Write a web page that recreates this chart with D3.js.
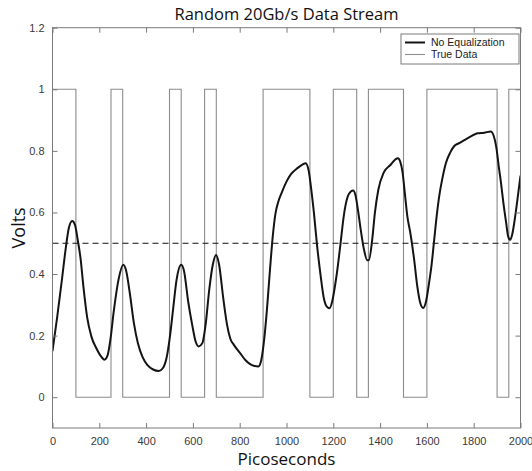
<!DOCTYPE html>
<html>
<head>
<meta charset="utf-8">
<script src="https://cdn.jsdelivr.net/npm/d3@7"></script>
<style>
  html, body { margin: 0; padding: 0; background: #fff; }
  svg { display: block; }
</style>
</head>
<body>
<svg id="chart" width="532" height="471"></svg>
<script>
// Transmitted bit pattern: level held from each edge time until the next
const bitEdges = [0, 100, 250, 300, 500, 550, 650, 700, 900, 1100, 1200, 1300, 1350, 1500, 1600, 1900, 1950, 2000];
const bitLevels = [1, 0, 1, 0, 1, 0, 1, 0, 1, 0, 1, 0, 1, 0, 1, 0, 1];

// Received waveform without equalization (ps, volts)
const rxTime = [0, 20, 40, 56, 70, 84, 96, 108, 120, 132, 148, 165, 190, 210, 222, 235, 248, 262, 283, 302,
  315, 330, 348, 365, 385, 405, 430, 454, 472, 488, 504, 516, 530, 550, 562, 580, 597, 612, 625, 640,
  655, 670, 685, 699, 712, 730, 746, 760, 775, 800, 825, 850, 880, 892, 905, 917, 930, 941, 953, 965,
  980, 1000, 1020, 1047, 1068, 1082, 1095, 1105, 1117, 1131, 1145, 1160, 1175, 1184, 1195, 1209, 1220, 1231, 1245, 1259,
  1275, 1285, 1295, 1305, 1318, 1331, 1345, 1352, 1366, 1378, 1392, 1416, 1445, 1465, 1476, 1486, 1496, 1506, 1516, 1530,
  1545, 1559, 1572, 1584, 1596, 1609, 1620, 1631, 1642, 1652, 1666, 1681, 1700, 1716, 1740, 1760, 1788, 1816, 1845, 1873,
  1885, 1897, 1907, 1916, 1927, 1938, 1948, 1956, 1965, 1975, 1990, 2000];
const rxVolts = [0.15, 0.26, 0.38, 0.48, 0.55, 0.572, 0.56, 0.51, 0.45, 0.36, 0.26, 0.20, 0.155, 0.13, 0.122, 0.135, 0.19, 0.28, 0.385, 0.43,
  0.41, 0.34, 0.24, 0.175, 0.13, 0.105, 0.09, 0.085, 0.095, 0.13, 0.21, 0.29, 0.38, 0.43, 0.41, 0.31, 0.235, 0.18, 0.165, 0.175,
  0.24, 0.35, 0.43, 0.462, 0.43, 0.32, 0.235, 0.19, 0.17, 0.145, 0.12, 0.105, 0.10, 0.12, 0.19, 0.29, 0.42, 0.52, 0.597, 0.635,
  0.665, 0.70, 0.725, 0.744, 0.755, 0.76, 0.735, 0.68, 0.60, 0.49, 0.40, 0.32, 0.292, 0.289, 0.31, 0.37, 0.43, 0.50, 0.59, 0.645,
  0.668, 0.671, 0.655, 0.61, 0.54, 0.48, 0.445, 0.445, 0.51, 0.60, 0.672, 0.73, 0.755, 0.772, 0.776, 0.765, 0.73, 0.66, 0.59, 0.53,
  0.45, 0.36, 0.305, 0.29, 0.31, 0.37, 0.43, 0.51, 0.59, 0.65, 0.71, 0.76, 0.795, 0.815, 0.826, 0.835, 0.847, 0.857, 0.859, 0.863,
  0.85, 0.81, 0.75, 0.70, 0.63, 0.57, 0.52, 0.511, 0.53, 0.575, 0.66, 0.72];

const threshold = 0.5;
const xTicks = [0, 200, 400, 600, 800, 1000, 1200, 1400, 1600, 1800, 2000];
const yTicks = [0, 0.2, 0.4, 0.6, 0.8, 1, 1.2];
const legendLabels = ["No Equalization", "True Data"];

const svg = d3.select("#chart");
const plotLeft = 52.5, plotRight = 520.5, plotTop = 27.7, plotBottom = 428;

const x = d3.scaleLinear().domain([0, 2000]).range([plotLeft, plotRight]);
const y = d3.scaleLinear().domain([-0.1, 1.2]).range([plotBottom, plotTop]);

const axisColor = "#7a7a7a";
const tickFont = "'Liberation Sans', Arial, sans-serif";
const labelFont = "'Open Sans', 'Noto Sans', sans-serif";

svg.append("defs").append("clipPath").attr("id", "plot-clip")
  .append("rect").attr("x", plotLeft).attr("y", plotTop)
  .attr("width", plotRight - plotLeft).attr("height", plotBottom - plotTop);

const plot = svg.append("g").attr("clip-path", "url(#plot-clip)");

// True data as a step trace
const stepPts = [];
bitLevels.forEach((lv, i) => {
  stepPts.push([bitEdges[i], lv]);
  stepPts.push([bitEdges[i + 1], lv]);
});
plot.append("path")
  .attr("d", d3.line().x(d => x(d[0])).y(d => y(d[1]))(stepPts))
  .attr("fill", "none").attr("stroke", "#8c8c8c").attr("stroke-width", 1.1);

// Decision threshold
plot.append("line")
  .attr("x1", x(0)).attr("x2", x(2000)).attr("y1", y(threshold)).attr("y2", y(threshold))
  .attr("stroke", "#111").attr("stroke-width", 1.2).attr("stroke-dasharray", "6,4");

// Received waveform
plot.append("path")
  .attr("d", d3.line().x((d, i) => x(rxTime[i])).y(d => y(d)).curve(d3.curveMonotoneX)(rxVolts))
  .attr("fill", "none").attr("stroke", "#141414").attr("stroke-width", 2);

// Axes with inward ticks on all four sides
function styleAxis(g) {
  g.select(".domain").remove();
  g.selectAll(".tick line").attr("stroke", axisColor);
  g.selectAll(".tick text").attr("fill", "#3a3a3a").style("font-family", tickFont).style("font-size", "11px");
}
svg.append("g").attr("transform", `translate(0,${plotBottom})`)
  .call(d3.axisBottom(x).tickValues(xTicks).tickSizeInner(-5).tickSizeOuter(0).tickPadding(9).tickFormat(d3.format("d")))
  .call(styleAxis);
svg.append("g").attr("transform", `translate(0,${plotTop})`)
  .call(d3.axisTop(x).tickValues(xTicks).tickSizeInner(-5).tickSizeOuter(0).tickFormat(""))
  .call(styleAxis);
svg.append("g").attr("transform", `translate(${plotLeft},0)`)
  .call(d3.axisLeft(y).tickValues(yTicks).tickSizeInner(-5).tickSizeOuter(0).tickPadding(8).tickFormat(d3.format("~g")))
  .call(styleAxis);
svg.append("g").attr("transform", `translate(${plotRight},0)`)
  .call(d3.axisRight(y).tickValues(yTicks).tickSizeInner(-5).tickSizeOuter(0).tickFormat(""))
  .call(styleAxis);

svg.append("rect")
  .attr("x", plotLeft).attr("y", plotTop).attr("width", plotRight - plotLeft).attr("height", plotBottom - plotTop)
  .attr("fill", "none").attr("stroke", axisColor).attr("stroke-width", 1);

// Title and axis labels
svg.append("text").attr("x", (plotLeft + plotRight) / 2).attr("y", 20)
  .attr("text-anchor", "middle").style("font-family", labelFont).style("font-size", "16.5px").attr("fill", "#111")
  .text("Random 20Gb/s Data Stream");
svg.append("text").attr("x", (plotLeft + plotRight) / 2).attr("y", 465)
  .attr("text-anchor", "middle").style("font-family", labelFont).style("font-size", "17px").attr("fill", "#111")
  .text("Picoseconds");
svg.append("text").attr("transform", `translate(25,${y(0.55)}) rotate(-90)`)
  .attr("text-anchor", "middle").style("font-family", labelFont).style("font-size", "18px").attr("fill", "#111")
  .text("Volts");

// Legend
const lg = svg.append("g");
lg.append("rect").attr("x", 401).attr("y", 34).attr("width", 118).attr("height", 30)
  .attr("fill", "#fff").attr("stroke", axisColor).attr("stroke-width", 1);
const legendStyles = [{ stroke: "#141414", w: 2 }, { stroke: "#8c8c8c", w: 1.1 }];
legendLabels.forEach((lab, i) => {
  const ly = 42.5 + i * 12;
  lg.append("line").attr("x1", 405).attr("x2", 425).attr("y1", ly).attr("y2", ly)
    .attr("stroke", legendStyles[i].stroke).attr("stroke-width", legendStyles[i].w);
  lg.append("text").attr("x", 431).attr("y", ly + 3.8)
    .style("font-family", tickFont).style("font-size", "10.5px").attr("fill", "#222").text(lab);
});
</script>
</body>
</html>
